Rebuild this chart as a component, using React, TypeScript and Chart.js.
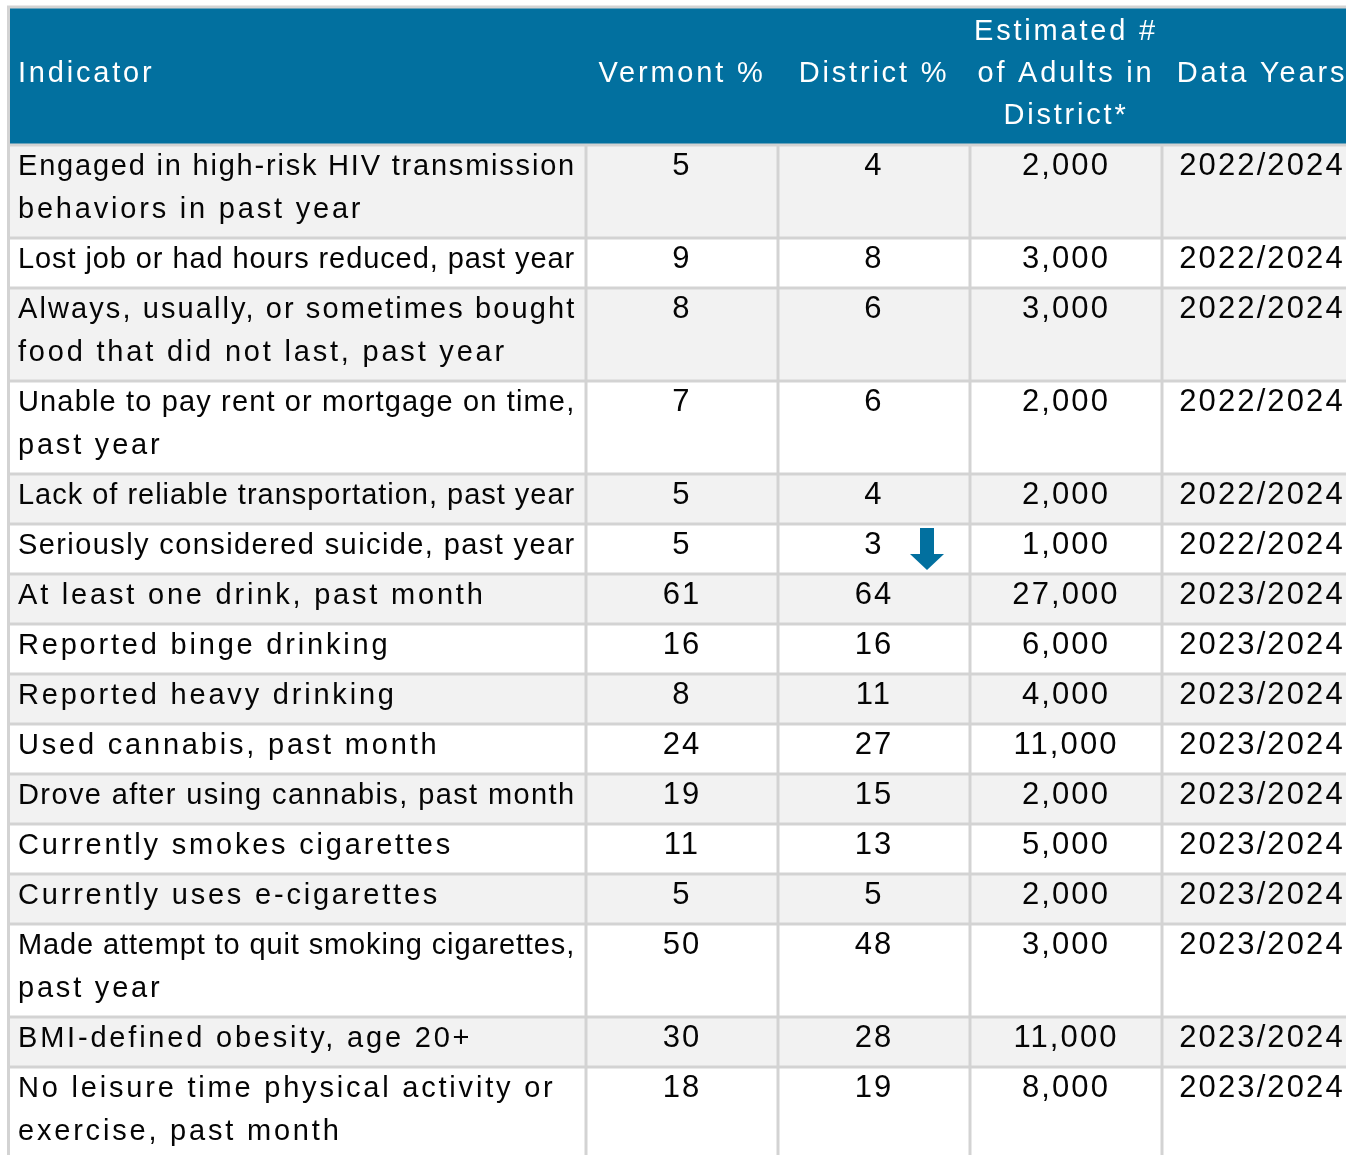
import React, { useEffect, useRef } from "react";
import { Chart, registerables } from "chart.js";

Chart.register(...registerables);

// ---------------- DATA ----------------
const headerLabels = [
  "Indicator",
  "Vermont %",
  "District %",
  "Estimated #\nof Adults in\nDistrict*",
  "Data Years",
];

const indicators = [
  "Engaged in high-risk HIV transmission\nbehaviors in past year",
  "Lost job or had hours reduced, past year",
  "Always, usually, or sometimes bought\nfood that did not last, past year",
  "Unable to pay rent or mortgage on time,\npast year",
  "Lack of reliable transportation, past year",
  "Seriously considered suicide, past year",
  "At least one drink, past month",
  "Reported binge drinking",
  "Reported heavy drinking",
  "Used cannabis, past month",
  "Drove after using cannabis, past month",
  "Currently smokes cigarettes",
  "Currently uses e-cigarettes",
  "Made attempt to quit smoking cigarettes,\npast year",
  "BMI-defined obesity, age 20+",
  "No leisure time physical activity or\nexercise, past month",
];

const vermontPct = [5, 9, 8, 7, 5, 5, 61, 16, 8, 24, 19, 11, 5, 50, 30, 18];
const districtPct = [4, 8, 6, 6, 4, 3, 64, 16, 11, 27, 15, 13, 5, 48, 28, 19];
const adultsInDistrict = [
  2000, 3000, 3000, 2000, 2000, 1000, 27000, 6000, 4000, 11000, 2000, 5000,
  2000, 3000, 11000, 8000,
];
const dataYears = [
  "2022/2024", "2022/2024", "2022/2024", "2022/2024", "2022/2024", "2022/2024",
  "2023/2024", "2023/2024", "2023/2024", "2023/2024", "2023/2024", "2023/2024",
  "2023/2024", "2023/2024", "2023/2024", "2023/2024",
];
// significance flag for District % compared with Vermont
const districtFlags = [
  "", "", "", "", "", "lower", "", "", "", "", "", "", "", "", "", "",
];

// ---------------- LAYOUT / STYLE ----------------
const W = 1346;
const H = 1155;
const BLUE = "#02709f";
const GRID_COLOR = "#d3d3d3";
const ALT_BG = "#f2f2f2";
const GRID_W = 3;
const LINE_H = 43;
const ROW_BASE_H = 50;
const TOP_LINE = 7;
const COL_EDGES = [8.5, 586, 778, 970, 1162, 1362];
const TEXT_FONT = "29px 'Liberation Sans', Arial, sans-serif";
const NUM_FONT = "31px 'Liberation Sans', Arial, sans-serif";
const TEXT_SP = 2.8;
const NUM_SP = 2.1;
const TEXT_PAD = 9.5;
const TEXT_MAX_W = 559;
const BASELINE_OFF = 30;
const NUM_BASELINE_OFF = 29.5;

const rowHeight = (lines: number) => ROW_BASE_H + LINE_H * (lines - 1);
const HEADER_H = rowHeight(3) + 2;

function drawSpaced(
  ctx: any,
  text: string,
  x: number,
  y: number,
  align: "left" | "center",
  maxW: number,
  spacing: number
) {
  ctx.letterSpacing = spacing + "px";
  let w = ctx.measureText(text).width;
  if (w > maxW && text.length > 1) {
    const sp = Math.max(-1, spacing - (w - maxW) / (text.length - 1));
    ctx.letterSpacing = sp + "px";
    w = ctx.measureText(text).width;
  }
  const drawW = Math.min(w, maxW);
  const left = align === "left" ? x : x - drawW / 2;
  ctx.textAlign = "left";
  ctx.fillText(text, left, y, maxW);
}

const tablePlugin = {
  id: "tablePlugin",
  afterDraw(chart: any) {
    const ctx = chart.ctx;
    const xs = chart.scales.x;
    const ys = chart.scales.y;
    const px = (v: number) => xs.getPixelForValue(v);
    const py = (v: number) => ys.getPixelForValue(v);

    // row boundaries (grid line centres) in table units
    const bounds: number[] = [TOP_LINE, TOP_LINE + HEADER_H];
    indicators.forEach((t) => {
      const n = t.split("\n").length;
      bounds.push(bounds[bounds.length - 1] + rowHeight(n));
    });

    ctx.save();
    ctx.fillStyle = "#ffffff";
    ctx.fillRect(0, 0, chart.width, chart.height);

    // header
    ctx.fillStyle = BLUE;
    ctx.fillRect(
      px(COL_EDGES[0]),
      py(bounds[0]),
      px(COL_EDGES[5]) - px(COL_EDGES[0]),
      py(bounds[1]) - py(bounds[0])
    );

    // row backgrounds
    indicators.forEach((_, i) => {
      ctx.fillStyle = i % 2 === 0 ? ALT_BG : "#ffffff";
      ctx.fillRect(
        px(COL_EDGES[0]),
        py(bounds[i + 1]),
        px(COL_EDGES[5]) - px(COL_EDGES[0]),
        py(bounds[i + 2]) - py(bounds[i + 1])
      );
    });

    // grid lines
    ctx.strokeStyle = GRID_COLOR;
    ctx.lineWidth = GRID_W;
    ctx.beginPath();
    bounds.forEach((b) => {
      ctx.moveTo(px(COL_EDGES[0]) - GRID_W / 2, py(b));
      ctx.lineTo(px(COL_EDGES[5]), py(b));
    });
    ctx.moveTo(px(COL_EDGES[0]), py(bounds[0]) - GRID_W / 2);
    ctx.lineTo(px(COL_EDGES[0]), py(bounds[bounds.length - 1]));
    for (let c = 1; c <= 4; c++) {
      ctx.moveTo(px(COL_EDGES[c]), py(bounds[1]));
      ctx.lineTo(px(COL_EDGES[c]), py(bounds[bounds.length - 1]));
    }
    ctx.stroke();

    ctx.textBaseline = "alphabetic";

    // header text
    ctx.font = TEXT_FONT;
    ctx.fillStyle = "#ffffff";
    const hMid = (bounds[0] + bounds[1]) / 2 + 6;
    headerLabels.forEach((lab, c) => {
      const lines = lab.split("\n");
      const colW = px(COL_EDGES[c + 1]) - px(COL_EDGES[c]) - TEXT_PAD;
      lines.forEach((ln, k) => {
        const yv = hMid + (k - (lines.length - 1) / 2) * (LINE_H - 1);
        if (c === 0) {
          drawSpaced(ctx, ln, px(COL_EDGES[0]) + TEXT_PAD, py(yv), "left", colW, TEXT_SP);
        } else {
          const cx = (px(COL_EDGES[c]) + px(COL_EDGES[c + 1])) / 2;
          drawSpaced(ctx, ln, cx, py(yv), "center", colW + TEXT_PAD, TEXT_SP);
        }
      });
    });

    // body text
    indicators.forEach((t, i) => {
      const top = bounds[i + 1];
      const lines = t.split("\n");
      ctx.font = TEXT_FONT;
      ctx.fillStyle = "#050505";
      lines.forEach((ln, k) => {
        drawSpaced(
          ctx,
          ln,
          px(COL_EDGES[0]) + TEXT_PAD,
          py(top + BASELINE_OFF + k * LINE_H),
          "left",
          TEXT_MAX_W,
          TEXT_SP
        );
      });
      const cells = [
        String(vermontPct[i]),
        String(districtPct[i]),
        adultsInDistrict[i].toLocaleString("en-US"),
        dataYears[i],
      ];
      ctx.font = NUM_FONT;
      cells.forEach((s, c) => {
        const cx = (px(COL_EDGES[c + 1]) + px(COL_EDGES[c + 2])) / 2;
        drawSpaced(ctx, s, cx, py(top + NUM_BASELINE_OFF), "center", 400, NUM_SP);
      });

      // significance arrow in District column
      if (districtFlags[i] === "lower") {
        const ax = px(COL_EDGES[3] - 43);
        const yTop = py(top + 4);
        const yHead = py(top + 30);
        const yTip = py(top + 46);
        ctx.fillStyle = BLUE;
        ctx.beginPath();
        ctx.moveTo(ax - 7, yTop);
        ctx.lineTo(ax + 7, yTop);
        ctx.lineTo(ax + 7, yHead);
        ctx.lineTo(ax + 17, yHead);
        ctx.lineTo(ax, yTip);
        ctx.lineTo(ax - 17, yHead);
        ctx.lineTo(ax - 7, yHead);
        ctx.closePath();
        ctx.fill();
      }
    });

    ctx.restore();
  },
};

export default function App() {
  const ref = useRef<HTMLCanvasElement | null>(null);

  useEffect(() => {
    if (!ref.current) return;
    const chart = new Chart(ref.current, {
      type: "scatter",
      data: { datasets: [] },
      options: {
        animation: false,
        responsive: false,
        maintainAspectRatio: false,
        devicePixelRatio: 1,
        layout: { padding: 0 },
        plugins: {
          legend: { display: false },
          tooltip: { enabled: false },
        },
        scales: {
          x: { type: "linear", min: 0, max: W, display: false },
          y: { type: "linear", min: 0, max: H, reverse: true, display: false },
        },
      },
      plugins: [tablePlugin],
    });
    return () => chart.destroy();
  }, []);

  return (
    <div style={{ position: "absolute", left: 0, top: 0, width: W, height: H }}>
      <canvas ref={ref} width={W} height={H} style={{ display: "block" }} />
    </div>
  );
}
